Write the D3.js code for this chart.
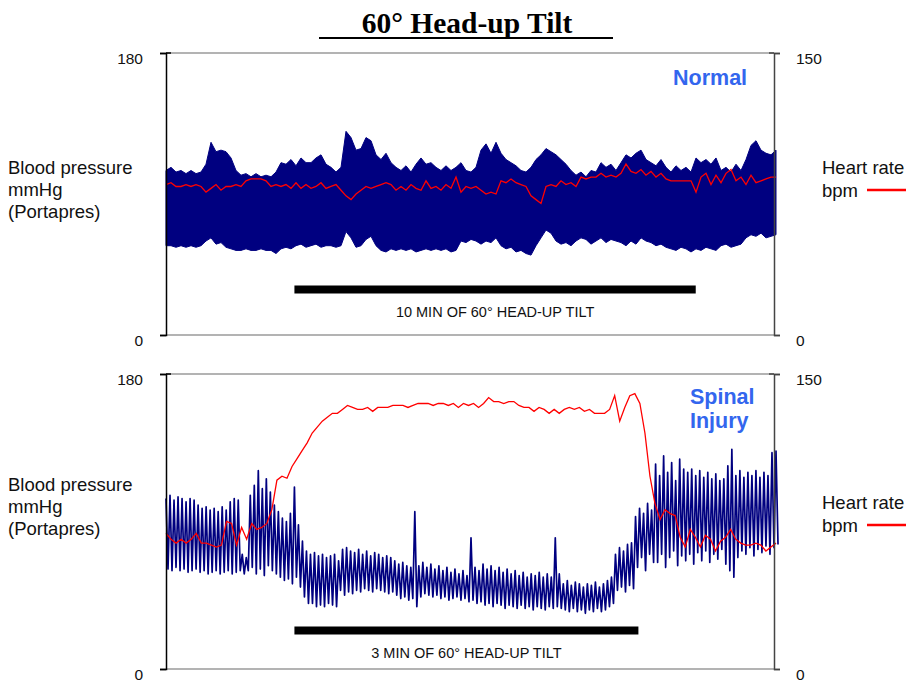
<!DOCTYPE html>
<html>
<head>
<meta charset="utf-8">
<script src="https://cdn.jsdelivr.net/npm/d3@7"></script>
<style>
  body { margin: 0; background: #fff; }
  svg { display: block; }
</style>
</head>
<body>
<script>
// ---- data (mmHg for pressure, bpm for heart rate) ----
// Normal subject: upper / lower envelope of the Portapres trace, evenly spaced in time
const normalSys = [105,107,104,105,103,105,103,104,109,123,117,118,117,113,105,102,103,101,103,101,102,101,104,110,109,112,108,113,110,110,113,115,109,107,104,107,130,126,118,119,126,124,115,112,116,110,107,105,108,104,109,113,109,110,107,105,108,105,107,110,105,104,107,118,122,116,123,116,112,110,108,105,104,107,112,115,119,117,115,112,109,105,102,104,101,105,104,110,107,109,105,110,115,113,116,118,112,110,108,112,107,104,108,105,107,104,113,110,112,109,113,105,107,104,109,105,112,121,124,118,116,115,118];
const normalDia = [57,57,56,57,56,57,56,57,60,62,58,59,56,55,54,54,55,54,54,55,54,54,52,55,56,55,57,58,56,57,58,56,57,57,56,57,66,62,56,57,61,63,57,54,53,55,54,55,54,55,53,54,55,54,55,54,55,53,54,60,59,61,60,58,60,59,62,57,55,56,53,54,52,51,57,62,67,65,60,58,59,57,60,62,61,58,60,62,59,61,60,59,57,60,58,62,60,59,57,58,56,55,54,56,55,53,55,54,56,55,54,57,58,56,57,58,62,64,63,65,62,63,64];
const normalHr = [80,81,79,79,80,79,80,79,76,78,80,77,79,79,80,79,82,83,83,83,82,79,80,79,80,78,81,78,80,78,79,81,78,79,80,77,74,72,75,77,79,78,79,80,81,80,77,79,77,80,78,77,82,78,79,77,80,78,84,76,79,78,79,77,75,76,75,82,81,83,81,80,79,74,72,70,79,80,79,82,80,81,79,84,83,84,84,86,84,85,84,86,91,87,86,88,85,87,84,86,83,82,82,82,82,82,76,84,86,80,85,81,86,88,82,84,80,85,81,82,83,84,84];

// Spinal injury subject: systolic / diastolic of each beat
const spinalSys = [104,106,103,105,104,102,104,103,100,98,99,97,98,96,99,97,102,104,103,70,68,106,112,121,110,116,108,100,96,92,90,95,111,88,78,72,70,71,69,70,68,69,70,66,73,74,72,71,73,70,72,69,71,70,68,69,68,66,64,65,63,62,96,63,65,62,64,61,63,60,62,59,61,58,60,57,80,62,60,64,61,63,60,62,59,61,58,60,57,59,56,58,57,59,56,58,56,80,58,52,54,51,53,52,50,52,51,53,50,52,54,56,70,74,72,76,77,93,98,95,101,97,125,118,130,120,126,115,128,122,120,122,118,121,117,120,116,119,115,116,124,134,118,121,117,120,118,121,117,120,118,132,133];
const spinalDia = [61,60,62,60,61,59,60,61,59,60,58,59,60,58,59,60,58,59,60,58,60,62,58,61,57,63,60,58,56,54,55,52,56,50,44,40,40,38,39,38,40,39,38,48,45,47,46,48,47,49,48,47,49,48,47,46,47,45,43,44,42,43,38,44,46,45,44,45,43,44,42,43,44,42,43,41,42,40,41,39,40,38,40,39,37,39,38,37,39,37,38,36,38,37,36,38,37,38,37,36,35,37,35,36,34,36,35,37,35,36,38,40,48,50,47,51,49,62,68,60,70,65,65,70,62,68,72,63,69,66,70,64,71,66,72,65,70,67,73,64,60,56,68,72,70,74,69,73,71,75,70,74,76];
const spinalHr = [69,66,64,66,64,66,69,64,64,63,62,63,75,74,63,72,66,74,71,72,74,81,96,98,97,103,107,111,115,120,123,126,128,130,130,132,134,133,132,132,133,131,133,133,133,134,134,134,133,134,135,135,135,134,135,135,134,135,133,135,134,135,133,135,138,136,136,135,136,136,134,133,133,131,133,132,130,132,130,132,133,132,133,131,132,130,130,130,132,139,126,133,139,140,135,120,98,84,76,81,79,78,67,62,71,67,62,68,66,60,65,67,71,66,64,63,63,64,63,60,62,64];

// recording length and tilt period, minutes
const normalMinutes = 15.2, normalTilt = [3.2, 13.2];
const spinalMinutes = 5.32, spinalTilt = [1.12, 4.12];

const bpTicks = [0, 180];
const hrTicks = [0, 150];

// ---- layout ----
const W = 906, H = 682;
const left = 166, right = 774, traceEnd = 776;
const sans = "'Liberation Sans', Arial, Helvetica, sans-serif";
const navy = "#000080", red = "#ff0000", labelBlue = "#3366ee";

const svg = d3.select("body").append("svg")
    .attr("width", W)
    .attr("height", H)
    .style("font-family", sans);

// title
svg.append("text")
    .attr("x", 467)
    .attr("y", 33)
    .attr("text-anchor", "middle")
    .style("font-family", "'Liberation Serif', 'Times New Roman', serif")
    .style("font-weight", "bold")
    .style("font-size", "29.5px")
    .text("60° Head-up Tilt");
svg.append("line")
    .attr("x1", 319).attr("x2", 613)
    .attr("y1", 38).attr("y2", 38)
    .attr("stroke", "#000")
    .attr("stroke-width", 2);

const panels = [
    {top: 53, bottom: 335, sys: normalSys, dia: normalDia, hr: normalHr, solid: true,
     minutes: normalMinutes, tilt: normalTilt, tiltText: "10 MIN OF 60° HEAD-UP TILT",
     barY: 289.5, textY: 317, name: ["Normal"], nameX: 673, nameY: 85,
     bpY: 174, hrY: 174},
    {top: 374, bottom: 669, sys: spinalSys, dia: spinalDia, hr: spinalHr, solid: false,
     minutes: spinalMinutes, tilt: spinalTilt, tiltText: "3 MIN OF 60° HEAD-UP TILT",
     barY: 630.5, textY: 658, name: ["Spinal", "Injury"], nameX: 690, nameY: 404,
     bpY: 491, hrY: 509}
];

panels.forEach(p => {
    const g = svg.append("g");

    const x = d3.scaleLinear().domain([0, p.minutes]).range([left, traceEnd]);
    const yBp = d3.scaleLinear().domain([0, 180]).range([p.bottom, p.top]);
    const yHr = d3.scaleLinear().domain([0, 150]).range([p.bottom, p.top]);

    const stepBp = p.minutes / (p.sys.length - 1);
    const stepHr = p.minutes / (p.hr.length - 1);

    // frame lines
    g.append("line")
        .attr("x1", left).attr("x2", right)
        .attr("y1", p.top).attr("y2", p.top)
        .attr("stroke", "#9a9a9a").attr("stroke-width", 1.5);
    g.append("line")
        .attr("x1", left).attr("x2", right)
        .attr("y1", p.bottom).attr("y2", p.bottom)
        .attr("stroke", "#9a9a9a").attr("stroke-width", 1.5);

    // blood pressure
    if (p.solid) {
        const beats = p.sys.map((s, i) => ({t: i * stepBp, s, d: p.dia[i]}));
        g.append("path")
            .datum(beats)
            .attr("d", d3.area()
                .x(d => x(d.t))
                .y0(d => yBp(d.d))
                .y1(d => yBp(d.s)))
            .attr("fill", navy)
            .attr("stroke", navy)
            .attr("stroke-width", 1);
    } else {
        const pts = [];
        p.sys.forEach((s, i) => {
            pts.push([i * stepBp, s]);
            pts.push([i * stepBp + stepBp / 2, p.dia[i]]);
        });
        g.append("path")
            .datum(pts)
            .attr("d", d3.line().x(d => x(d[0])).y(d => yBp(d[1])))
            .attr("fill", "none")
            .attr("stroke", navy)
            .attr("stroke-width", 1.7)
            .attr("stroke-linejoin", "round");
    }

    // heart rate
    g.append("path")
        .datum(p.hr)
        .attr("d", d3.line()
            .x((d, i) => x(i * stepHr))
            .y(d => yHr(d)))
        .attr("fill", "none")
        .attr("stroke", red)
        .attr("stroke-width", 1.3);

    // axes
    const axL = g.append("g")
        .attr("transform", `translate(${left},0)`)
        .call(d3.axisLeft(yBp).tickValues(bpTicks).tickSize(6).tickPadding(17));
    const axR = g.append("g")
        .attr("transform", `translate(${right},0)`)
        .call(d3.axisRight(yHr).tickValues(hrTicks).tickSize(6).tickPadding(16));
    [axL, axR].forEach(ax => {
        ax.selectAll("path, line").attr("stroke-width", 1.5);
        ax.selectAll("text")
            .attr("dy", "0.65em")
            .style("font-family", sans)
            .style("font-size", "15.5px")
            .attr("fill", "#111");
    });
    axR.selectAll("path, line").attr("stroke", "#444");
    g.append("line")
        .attr("x1", left).attr("x2", left + 5)
        .attr("y1", p.top).attr("y2", p.top)
        .attr("stroke", "#000").attr("stroke-width", 1.5);
    g.append("line")
        .attr("x1", right - 5).attr("x2", right)
        .attr("y1", p.top).attr("y2", p.top)
        .attr("stroke", "#444").attr("stroke-width", 1.5);

    // tilt bar
    g.append("line")
        .attr("x1", x(p.tilt[0])).attr("x2", x(p.tilt[1]))
        .attr("y1", p.barY).attr("y2", p.barY)
        .attr("stroke", "#000").attr("stroke-width", 8);
    g.append("text")
        .attr("x", (x(p.tilt[0]) + x(p.tilt[1])) / 2 + 0)
        .attr("y", p.textY)
        .attr("text-anchor", "middle")
        .style("font-size", "14.5px")
        .attr("fill", "#111")
        .text(p.tiltText);

    // subject label
    p.name.forEach((n, i) => {
        g.append("text")
            .attr("x", p.nameX)
            .attr("y", p.nameY + i * 24)
            .style("font-weight", "bold")
            .style("font-size", "21.5px")
            .attr("fill", labelBlue)
            .text(n);
    });

    // left title
    ["Blood pressure", "mmHg", "(Portapres)"].forEach((t, i) => {
        g.append("text")
            .attr("x", 8)
            .attr("y", p.bpY + i * 22)
            .style("font-size", "18.5px")
            .attr("fill", "#111")
            .text(t);
    });
    // right title with legend line
    ["Heart rate", "bpm"].forEach((t, i) => {
        g.append("text")
            .attr("x", 822)
            .attr("y", p.hrY + i * 23)
            .style("font-size", "18.5px")
            .attr("fill", "#111")
            .text(t);
    });
    g.append("line")
        .attr("x1", 867).attr("x2", 906)
        .attr("y1", p.hrY + 16).attr("y2", p.hrY + 16)
        .attr("stroke", red).attr("stroke-width", 2.5);
});
</script>
</body>
</html>
